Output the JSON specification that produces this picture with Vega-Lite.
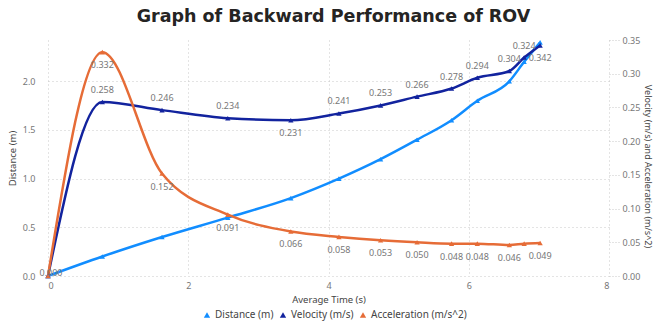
{
  "$schema": "https://vega.github.io/schema/vega-lite/v6.json",
  "width": 561,
  "height": 236,
  "autosize": {"type": "none"},
  "padding": {"left": 48, "top": 40, "right": 45, "bottom": 52},
  "background": "white",
  "title": {
    "text": "Graph of Backward Performance of ROV",
    "font": "DejaVu Sans",
    "fontSize": 17.5,
    "fontWeight": "bold",
    "color": "#252423",
    "anchor": "middle",
    "dx": 5,
    "offset": 11
  },
  "config": {
    "font": "Noto Sans",
    "view": {"stroke": null},
    "axis": {
      "labelFont": "Noto Sans",
      "labelFontSize": 9,
      "labelColor": "#777777",
      "titleFont": "Noto Sans",
      "titleFontSize": 9.5,
      "titleFontWeight": "normal",
      "titleColor": "#444444"
    }
  },
  "data": {
    "values": [
      {"time": 0, "series": "Distance (m)", "value": 0},
      {"time": 0.775, "series": "Distance (m)", "value": 0.2},
      {"time": 1.626, "series": "Distance (m)", "value": 0.4},
      {"time": 2.564, "series": "Distance (m)", "value": 0.6},
      {"time": 3.463, "series": "Distance (m)", "value": 0.8},
      {"time": 4.149, "series": "Distance (m)", "value": 1.0},
      {"time": 4.743, "series": "Distance (m)", "value": 1.2},
      {"time": 5.263, "series": "Distance (m)", "value": 1.4},
      {"time": 5.755, "series": "Distance (m)", "value": 1.6},
      {"time": 6.122, "series": "Distance (m)", "value": 1.8},
      {"time": 6.579, "series": "Distance (m)", "value": 2.0},
      {"time": 6.79, "series": "Distance (m)", "value": 2.2},
      {"time": 7.018, "series": "Distance (m)", "value": 2.4},
      {"time": 0, "series": "Velocity (m/s)", "value": 0},
      {"time": 0.775, "series": "Velocity (m/s)", "value": 0.258},
      {"time": 1.626, "series": "Velocity (m/s)", "value": 0.246},
      {"time": 2.564, "series": "Velocity (m/s)", "value": 0.234},
      {"time": 3.463, "series": "Velocity (m/s)", "value": 0.231},
      {"time": 4.149, "series": "Velocity (m/s)", "value": 0.241},
      {"time": 4.743, "series": "Velocity (m/s)", "value": 0.253},
      {"time": 5.263, "series": "Velocity (m/s)", "value": 0.266},
      {"time": 5.755, "series": "Velocity (m/s)", "value": 0.278},
      {"time": 6.122, "series": "Velocity (m/s)", "value": 0.294},
      {"time": 6.579, "series": "Velocity (m/s)", "value": 0.304},
      {"time": 6.79, "series": "Velocity (m/s)", "value": 0.324},
      {"time": 7.018, "series": "Velocity (m/s)", "value": 0.342},
      {"time": 0, "series": "Acceleration (m/s^2)", "value": 0},
      {"time": 0.775, "series": "Acceleration (m/s^2)", "value": 0.332},
      {"time": 1.626, "series": "Acceleration (m/s^2)", "value": 0.152},
      {"time": 2.564, "series": "Acceleration (m/s^2)", "value": 0.091},
      {"time": 3.463, "series": "Acceleration (m/s^2)", "value": 0.066},
      {"time": 4.149, "series": "Acceleration (m/s^2)", "value": 0.058},
      {"time": 4.743, "series": "Acceleration (m/s^2)", "value": 0.053},
      {"time": 5.263, "series": "Acceleration (m/s^2)", "value": 0.05},
      {"time": 5.755, "series": "Acceleration (m/s^2)", "value": 0.048},
      {"time": 6.122, "series": "Acceleration (m/s^2)", "value": 0.048},
      {"time": 6.579, "series": "Acceleration (m/s^2)", "value": 0.046},
      {"time": 6.79, "series": "Acceleration (m/s^2)", "value": 0.048},
      {"time": 7.018, "series": "Acceleration (m/s^2)", "value": 0.049}
    ]
  },
  "encoding": {
    "x": {
      "field": "time",
      "type": "quantitative",
      "scale": {"domain": [0, 8], "nice": false, "zero": true},
      "axis": {
        "title": "Average Time (s)",
        "values": [0, 2, 4, 6, 8],
        "format": "d",
        "grid": true,
        "gridDash": [1, 3],
        "gridColor": "#c8c8c8",
        "domain": false,
        "ticks": false,
        "labelPadding": 5,
        "titlePadding": 4
      }
    },
    "color": {
      "field": "series",
      "type": "nominal",
      "scale": {
        "domain": ["Distance (m)", "Velocity (m/s)", "Acceleration (m/s^2)"],
        "range": ["#118DFF", "#12239E", "#E66C37"]
      },
      "legend": {
        "orient": "none",
        "legendX": 154,
        "legendY": 270,
        "direction": "horizontal",
        "title": null,
        "symbolType": "triangle-up",
        "symbolSize": 40,
        "symbolStrokeWidth": 0,
        "labelFont": "Noto Sans",
        "labelFontSize": 10,
        "labelColor": "#444444",
        "columnPadding": 4,
        "symbolOffset": 0,
        "labelOffset": 3
      }
    }
  },
  "layer": [
    {
      "transform": [{"filter": "datum.series === 'Distance (m)'"}],
      "encoding": {
        "y": {
          "field": "value",
          "type": "quantitative",
          "scale": {"domain": [0, 2.424], "nice": false},
          "axis": {
            "orient": "left",
            "title": "Distance (m)",
            "values": [0, 0.5, 1, 1.5, 2],
            "format": ".1f",
            "grid": true,
            "gridDash": [1, 3],
            "gridColor": "#c8c8c8",
            "domain": false,
            "ticks": false,
            "labelPadding": 13,
            "titlePadding": 5
          }
        }
      },
      "layer": [
        {"mark": {"type": "line", "interpolate": "monotone", "strokeWidth": 2.5}},
        {"mark": {"type": "point", "shape": "triangle-up", "filled": true, "opacity": 1, "size": 28}}
      ]
    },
    {
      "transform": [{"filter": "datum.series !== 'Distance (m)'"}],
      "encoding": {
        "y": {
          "field": "value",
          "type": "quantitative",
          "scale": {"domain": [0, 0.35], "nice": false},
          "axis": {
            "orient": "right",
            "title": "Velocity (m/s) and Acceleration (m/s^2)",
            "titleFontSize": 9,
            "titleY": 126,
            "values": [0, 0.05, 0.1, 0.15, 0.2, 0.25, 0.3, 0.35],
            "format": ".2f",
            "grid": false,
            "domain": false,
            "ticks": true,
            "tickSize": 10,
            "tickDash": [1, 2],
            "tickColor": "#c8c8c8",
            "labelPadding": 3,
            "titlePadding": 3
          }
        }
      },
      "layer": [
        {"mark": {"type": "line", "interpolate": "monotone", "strokeWidth": 2.5}},
        {"mark": {"type": "point", "shape": "triangle-up", "filled": true, "opacity": 1, "size": 28}},
        {
          "transform": [{"filter": "datum.series === 'Velocity (m/s)' && datum.time > 0 && datum.value !== 0.231 && datum.value !== 0.342"}],
          "mark": {"type": "text", "dy": -12, "fontSize": 9, "font": "Noto Sans"},
          "encoding": {"text": {"field": "value", "format": ".3f"}, "color": {"value": "#777777"}}
        },
        {
          "transform": [{"filter": "datum.series === 'Velocity (m/s)' && (datum.value === 0.231 || datum.value === 0.342)"}],
          "mark": {"type": "text", "dy": 13, "fontSize": 9, "font": "Noto Sans"},
          "encoding": {"text": {"field": "value", "format": ".3f"}, "color": {"value": "#777777"}}
        },
        {
          "transform": [{"filter": "datum.series === 'Velocity (m/s)' && datum.time === 0"}],
          "mark": {"type": "text", "dx": 3, "dy": -3, "fontSize": 9, "font": "Noto Sans"},
          "encoding": {"text": {"field": "value", "format": ".3f"}, "color": {"value": "#777777"}}
        },
        {
          "transform": [{"filter": "datum.series === 'Acceleration (m/s^2)' && datum.time > 0 && datum.time !== 6.79"}],
          "mark": {"type": "text", "dy": 13, "fontSize": 9, "font": "Noto Sans"},
          "encoding": {"text": {"field": "value", "format": ".3f"}, "color": {"value": "#777777"}}
        }
      ]
    }
  ],
  "resolve": {"scale": {"y": "independent"}}
}
